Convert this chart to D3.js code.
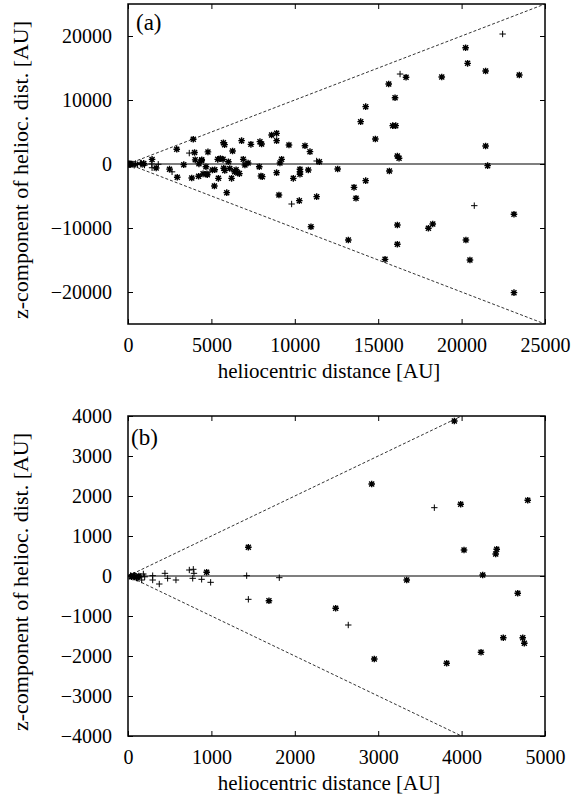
<!DOCTYPE html>
<html><head><meta charset="utf-8">
<script src="https://cdn.jsdelivr.net/npm/d3@7"></script>
<style>body{margin:0;background:#fff}text{font-family:"Liberation Serif","Times New Roman",serif;fill:#000}</style>
</head><body><svg id="c" width="574" height="804"></svg>
<script>
// asterisk-marked objects: heliocentric distance [AU], z-component [AU]
const starDist = [1443,1690,943,2490,3913,2922,3989,4793,4029,4421,4409,4253,3342,4673,2953,3821,4233,4500,4733,4752,40,70,100,130,
 5060,5180,5200,5380,5540,5420,5700,5740,5720,5790,5800,5920,6020,6100,6210,6270,6390,6480,6580,6680,6810,6910,7010,7200,7370,7910,8010,7870,7970,8050,8610,8910,8910,8910,9050,9110,9210,9650,9910,10310,10310,10310,10270,10610,10810,10910,11470,10970,11310,12570,13210,13550,13670,14250,15670,15410,16150,16150,18010,18270,20260,20500,23140,23140,20240,20360,21440,23460,18810,16670,15630,16010,14250,13950,15870,16050,14830,21440,16150,16250,21560];
const starZ = [717,-617,92,-808,3875,2300,1792,1892,650,667,550,25,-100,-433,-2075,-2183,-1908,-1542,-1542,-1683,-20,10,-40,0,
 -940,-3440,-900,730,850,-2240,730,-660,3330,3020,-1000,-4480,360,-710,-2240,2030,-1200,-900,-1400,-1500,3650,730,-160,160,3070,3490,3120,-420,-1870,-1980,4530,4790,3650,-1350,-4840,160,730,2970,-2240,-830,-1200,-1610,-5730,2860,-940,1930,360,-9800,-5100,-780,-11880,-3650,-5360,-2600,-1090,-14900,-9530,-12550,-10050,-9380,-11880,-15000,-7860,-20100,18170,15730,14530,13900,13590,13550,12500,10360,8960,6620,5990,5990,3910,2810,1250,890,-260];
// plus-marked objects
const plusDist = [1423,1443,1814,2641,3673,735,783,791,776,883,991,575,475,375,443,296,296,184,164,60,80,110,140,30,200,9810,11310,16310,20760,22460];
const plusZ = [8,-583,-42,-1225,1708,150,167,67,-58,-83,-158,-100,-58,-200,67,8,-100,50,-100,-30,20,-60,-20,10,-20,-6250,470,14060,-6510,20310];

const panels = [
  {label:"(a)", xMax:25000, yMax:25000, xTicks:[0,5000,10000,15000,20000,25000], yTicks:[-20000,-10000,0,10000,20000], cone:25000, top:4, bottom:324, lx:136, ly:30},
  {label:"(b)", xMax:5000, yMax:4000, xTicks:[0,1000,2000,3000,4000,5000], yTicks:[-4000,-3000,-2000,-1000,0,1000,2000,3000,4000], cone:4000, top:416, bottom:736, lx:131, ly:445}
];
const L = 128, R = 545;
const svg = d3.select("#c");
const starPath = "M-3.3,0H3.3M0,-3.3V3.3M-2.5,-2.5L2.5,2.5M-2.5,2.5L2.5,-2.5";
const plusPath = "M-3.2,0H3.2M0,-3.2V3.2";

panels.forEach((p, i) => {
  const x = d3.scaleLinear().domain([0, p.xMax]).range([L, R]);
  const y = d3.scaleLinear().domain([-p.yMax, p.yMax]).range([p.bottom, p.top]);
  const g = svg.append("g");
  const cid = "clip" + i;
  svg.append("clipPath").attr("id", cid).append("rect").attr("x", L).attr("y", p.top).attr("width", R - L).attr("height", p.bottom - p.top);
  const plot = g.append("g").attr("clip-path", `url(#${cid})`);
  plot.append("line").attr("x1", x(0)).attr("x2", x(p.xMax)).attr("y1", y(0)).attr("y2", y(0)).attr("stroke", "#000").attr("stroke-width", 1.2);
  [1, -1].forEach(s => {
    plot.append("line").attr("x1", x(0)).attr("y1", y(0)).attr("x2", x(p.cone)).attr("y2", y(s * p.cone))
      .attr("stroke", "#000").attr("stroke-width", 0.8).attr("stroke-dasharray", "3,2");
  });
  const inDom = (d, z) => d <= p.xMax && Math.abs(z) <= p.yMax;
  starDist.forEach((d, k) => { if (inDom(d, starZ[k])) plot.append("path").attr("d", starPath).attr("transform", `translate(${x(d)},${y(starZ[k])})`).attr("stroke", "#000").attr("stroke-width", 1.4).attr("fill", "none"); });
  plusDist.forEach((d, k) => { if (inDom(d, plusZ[k])) plot.append("path").attr("d", plusPath).attr("transform", `translate(${x(d)},${y(plusZ[k])})`).attr("stroke", "#000").attr("stroke-width", 1).attr("fill", "none"); });
  const tl = 5;
  const axB = d3.axisBottom(x).tickValues(p.xTicks).tickSize(-tl).tickPadding(14).tickFormat(d3.format("d"));
  const axT = d3.axisTop(x).tickValues(p.xTicks).tickSize(-tl).tickFormat("");
  const axL = d3.axisLeft(y).tickValues(p.yTicks).tickSize(-tl).tickPadding(16).tickFormat(d3.format("d"));
  const axR = d3.axisRight(y).tickValues(p.yTicks).tickSize(-tl).tickFormat("");
  const style = sel => { sel.select(".domain").remove(); sel.selectAll("line").attr("stroke", "#000").attr("stroke-width", 1); sel.selectAll("text").attr("font-size", 20).attr("font-family", "Liberation Serif"); };
  g.append("g").attr("transform", `translate(0,${p.bottom})`).call(axB).call(style);
  g.append("g").attr("transform", `translate(0,${p.top})`).call(axT).call(style);
  g.append("g").attr("transform", `translate(${L},0)`).call(axL).call(style);
  g.append("g").attr("transform", `translate(${R},0)`).call(axR).call(style);
  g.append("rect").attr("x", L).attr("y", p.top).attr("width", R - L).attr("height", p.bottom - p.top).attr("fill", "none").attr("stroke", "#000").attr("stroke-width", 1.5);
  g.append("text").attr("x", p.lx).attr("y", p.ly).attr("font-size", 23).text(p.label);
  g.append("text").attr("x", 329).attr("y", p.bottom + 54).attr("text-anchor", "middle").attr("font-size", 21).text("heliocentric distance [AU]");
  g.append("text").attr("transform", `translate(20,${(p.top + p.bottom) / 2 + 6}) rotate(-90)`).attr("text-anchor", "middle").attr("dy", "0.35em").attr("font-size", 22).text("z-component of helioc. dist. [AU]");
});
</script></body></html>
